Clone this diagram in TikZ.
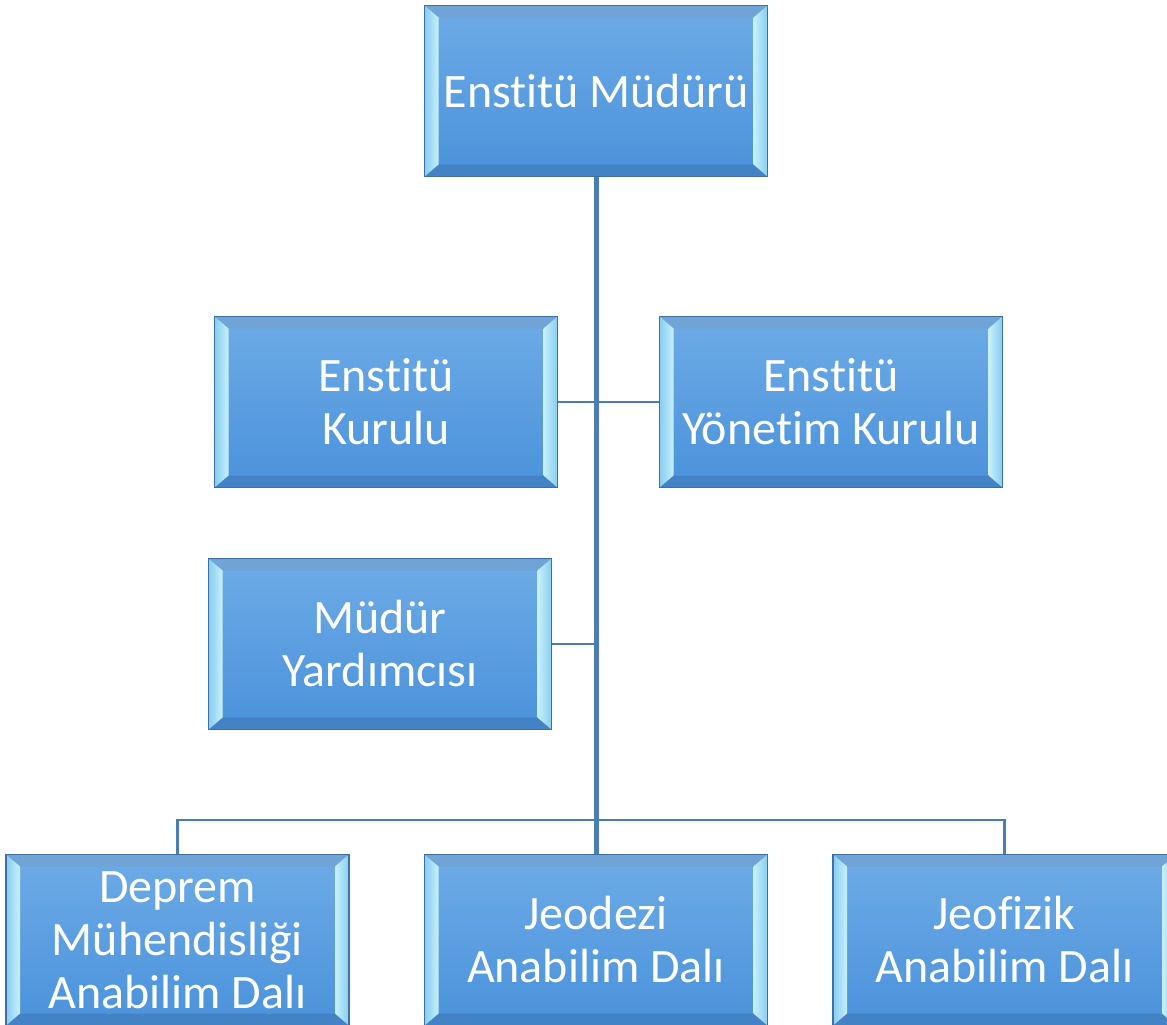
\documentclass[tikz,border=0pt]{standalone}
\usepackage{fontspec}
\setmainfont{Carlito}[RawFeature={-liga;-clig;-calt;-dlig}]
\usetikzlibrary{positioning}
\definecolor{boxtop}{HTML}{6DABE6}
\definecolor{boxbot}{HTML}{4A92DB}
\definecolor{boxedge}{HTML}{3E70A6}
\definecolor{bevlight}{HTML}{C8F0FC}
\definecolor{bevmid}{HTML}{86CDF0}
\definecolor{linkblue}{HTML}{4A7DB5}

\begin{document}
\begin{tikzpicture}[x=1pt, y=-1pt,
    orgbox/.style={draw=boxedge, line width=1.5pt, minimum width=343pt, minimum height=171pt,
        inner sep=0pt, top color=boxtop, bottom color=boxbot, text=white, align=center,
        font=\fontsize{48}{53}\selectfont,
        path picture={
            \coordinate (bnw) at (path picture bounding box.north west);
            \coordinate (bne) at (path picture bounding box.north east);
            \coordinate (bsw) at (path picture bounding box.south west);
            \coordinate (bse) at (path picture bounding box.south east);
            \fill[boxtop!85!gray] (bnw) -- (bne) -- ([shift={(-14pt,-12pt)}]bne) -- ([shift={(14pt,-12pt)}]bnw) -- cycle;
            \fill[boxbot!90!black] (bsw) -- (bse) -- ([shift={(-14pt,12pt)}]bse) -- ([shift={(14pt,12pt)}]bsw) -- cycle;
            \shade[left color=bevmid, right color=bevlight] (bnw) -- ([shift={(14pt,-12pt)}]bnw) -- ([shift={(14pt,12pt)}]bsw) -- (bsw) -- cycle;
            \shade[left color=bevlight, right color=bevmid] (bne) -- ([shift={(-14pt,-12pt)}]bne) -- ([shift={(-14pt,12pt)}]bse) -- (bse) -- cycle;
        }},
    link/.style={draw=linkblue, line width=2.5pt},
    trunk/.style={draw=linkblue, line width=5pt}]

    \useasboundingbox (0,0) rectangle (1167,1025);

    \node[orgbox] (mudur) at (596,91) {Enstitü Müdürü};
    \node[orgbox] (kurul) at (386,402) {Enstitü\\Kurulu};
    \node[orgbox] (yonetim) at (831,402) {Enstitü\\Yönetim Kurulu};
    \node[orgbox] (yard) at (380,644) {Müdür\\Yardımcısı};

    \node[orgbox] (jeodezi) at (596,940) {Jeodezi\\Anabilim Dalı};
    \node[orgbox, left=74pt of jeodezi] (deprem) {Deprem\\Mühendisliği\\Anabilim Dalı};
    \node[orgbox, right=64pt of jeodezi] (jeofizik) {Jeofizik\\Anabilim Dalı};

    \coordinate (bus) at (597,820);

    \draw[link] (kurul.east) -- (yonetim.west);
    \draw[link] (yard.east) -- (yard.east -| mudur.south);
    \draw[link] (deprem.north) |- (bus) -| (jeofizik.north);
    \draw[trunk] (mudur.south) -- (jeodezi.north);
\end{tikzpicture}
\end{document}
